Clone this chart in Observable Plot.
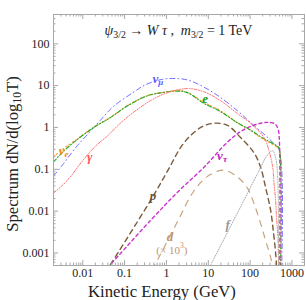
<!DOCTYPE html>
<html><head><meta charset="utf-8">
<script src="https://cdn.jsdelivr.net/npm/d3@7"></script>
<script src="https://cdn.jsdelivr.net/npm/@observablehq/plot@0.6"></script>
<style>body{margin:0;background:#fff}#chart svg{display:block}</style>
</head><body><div id="chart"></div>
<script>
// ---- data (energy in GeV, spectrum dN/dlog10T) ----
const nuMuE = [0.002,0.0035,0.0066,0.0126,0.0263,0.0537,0.158,0.316,0.79,1.66,3.55,13.2,50,102,263,363,500,500];
const nuMuS = [0.069,0.138,0.32,0.66,1.48,3.16,6.8,10.5,14.1,14.8,13.2,6.8,2.5,1.32,0.575,0.42,0.28,0.00001];
const nuEE  = [0.002,0.00355,0.0066,0.0178,0.0457,0.115,0.347,0.72,1.82,3.16,7.76,19.5,50,102,178,457,500,500];
const nuES  = [0.2,0.316,0.49,1.0,1.74,3.3,5.75,6.76,7.6,6.9,4.0,2.5,1.29,0.85,0.575,0.33,0.30,0.00001];
const elE   = [0.002,0.00355,0.0066,0.0178,0.0457,0.115,0.347,0.72,1.82,3.16,7.76,19.5,50,102,178,457,500,500];
const elS   = [0.151,0.275,0.47,0.98,1.72,3.25,5.7,6.7,7.4,6.8,3.8,2.4,1.29,0.87,0.6,0.35,0.31,0.00001];
const gamE  = [0.002,0.00316,0.005,0.01,0.02,0.039,0.079,0.162,0.417,1.05,3.16,7.9,19.5,50,102,214,282,347,372,407,427,457,479,490];
const gamS  = [0.027,0.04,0.065,0.162,0.355,0.63,1.26,2.29,4.37,6.76,8.5,7.1,4.37,2.14,1.26,0.575,0.28,0.112,0.047,0.018,0.0072,0.003,0.00068,0.00025];
const pE    = [0.0355,0.417,1.05,2.57,6.6,13.5,28.8,59,123,178,234,309,363,407,437];
const pS    = [0.00035,0.018,0.089,0.417,1.0,1.26,1.12,0.575,0.25,0.112,0.037,0.0105,0.003,0.001,0.00035];
const nuTauE = [0.0398,0.417,1.95,7.9,28.8,70.8,178,282,398,468,500,500];
const nuTauS = [0.00045,0.006,0.030,0.112,0.447,0.89,1.26,1.32,1.2,0.89,0.5,0.00001];
const dE    = [0.447,0.646,1.95,3.98,7.1,11.5,23.4,50,87,123,178,234,309,355];
const dS    = [0.0004,0.00076,0.0063,0.025,0.052,0.076,0.095,0.065,0.035,0.0155,0.0051,0.002,0.00079,0.0004];
const fE    = [10,52.5,151,263,347,407,457,479];
const fS    = [0.0004,0.01,0.079,0.224,0.275,0.19,0.063,0.0003];

const xTicks = [0.01,0.1,1,10,100,1000];
const xTickLabels = ["0.01","0.1","1","10","100","1000"];
const yTicks = [0.001,0.01,0.1,1,10,100];
const yTickLabels = ["0.001","0.01","0.1","1","10","100"];

const seriesNames = ["nuMu","nuE","e","gamma","p","nuTau","d","f"];
const seriesE = [nuMuE,nuEE,elE,gamE,pE,nuTauE,dE,fE];
const seriesS = [nuMuS,nuES,elS,gamS,pS,nuTauS,dS,fS];

// curve labels (annotation anchors in data coordinates)
const labelKeys = ["nuMu","e","nuE","gamma","p","nuTau","d","dscale","f"];
const labelE = [0.64,8.6,0.0036,0.015,0.49,21.9,1.25,1.39,30];
const labelS = [15,4.9,0.28,0.2,0.023,0.215,0.0025,0.00117,0.0047];

// ---- styles ----
const font = "'Liberation Serif','Times New Roman',serif";
const styles = {
  nuMu:  {stroke:"#6e6eff", dash:"5,3,1,3", w:1.0, label:"#5c5cff"},
  nuE:   {stroke:"#ffa040", dash:"1.5,2,1.5,3", w:1.2, label:"#ff8c1a"},
  e:     {stroke:"#22aa22", dash:"4,2,1,2", w:1.1, label:"#1a9a1a"},
  gamma: {stroke:"#ff7272", dash:"3,1.5,1,1.5,1,1.5", w:1.0, label:"#ff5555"},
  p:     {stroke:"#7b5b3b", dash:"5,4", w:1.4, label:"#6e4e30"},
  nuTau: {stroke:"#cc33cc", dash:"3,3", w:1.4, label:"#bb22bb"},
  d:     {stroke:"#c8a27c", dash:"6,6", w:1.2, label:"#c09570"},
  f:     {stroke:"#aaaaaa", dash:"1,1.5", w:1.0, label:"#999999"}
};
const labelParts = {
  nuMu: [["ν","i"],["μ","isub"]],
  e: [["e","i"]],
  nuE: [["ν","i"],["e","isub"]],
  gamma: [["γ","i"]],
  p: [["p","i"]],
  nuTau: [["ν","i"],["τ","isub"]],
  d: [["d","i"]],
  dscale: [["(× 10","n"],["3","sup"],[")","n"]],
  f: [["f","i"]]
};
const labelStyleKey = {nuMu:"nuMu",e:"e",nuE:"nuE",gamma:"gamma",p:"p",nuTau:"nuTau",d:"d",dscale:"d",f:"f"};

const W = 306, H = 300, mL = 53, mR = 2, mT = 14, mB = 35;
const fw = W - mL - mR, fh = H - mT - mB;
const xDom = [10 ** -2.7, 10 ** 3.3], yDom = [10 ** -3.3, 10 ** 2.7];
const frameColor = "#a8a8a8";

const minors = (dom) => { const r = []; for (let k = -4; k <= 4; k++) for (let m = 2; m <= 9; m++) { const v = m * 10 ** k; if (v > dom[0] && v < dom[1]) r.push(v); } return r; };
const majors = (dom) => { const r = []; for (let k = -4; k <= 4; k++) { const v = 10 ** k; if (v > dom[0] && v < dom[1]) r.push(v); } return r; };
const xMaj = majors(xDom), xMin = minors(xDom), yMaj = majors(yDom), yMin = minors(yDom);

const xFmt = new Map(xTicks.map((v, i) => [v, xTickLabels[i]]));
const yFmt = new Map(yTicks.map((v, i) => [v, yTickLabels[i]]));

const lineMarks = seriesNames.map((name, i) => {
  const st = styles[name];
  const data = seriesE[i].map((e, j) => ({E: e, S: seriesS[i][j]}));
  return Plot.line(data, {x: "E", y: "S", stroke: st.stroke, strokeWidth: st.w, strokeDasharray: st.dash, curve: "catmull-rom", clip: true});
});

const chart = Plot.plot({
  width: W, height: H,
  marginLeft: mL, marginRight: mR, marginTop: mT, marginBottom: mB,
  style: {fontFamily: font, background: "#fff", color: "#222"},
  x: {type: "log", domain: xDom},
  y: {type: "log", domain: yDom},
  marks: [
    ...lineMarks,
    Plot.frame({stroke: frameColor, strokeWidth: 1}),
    Plot.tickX(xMaj, {x: d => d, insetTop: fh - 5, stroke: frameColor}),
    Plot.tickX(xMaj, {x: d => d, insetBottom: fh - 5, stroke: frameColor}),
    Plot.tickX(xMin, {x: d => d, insetTop: fh - 2.5, stroke: frameColor}),
    Plot.tickX(xMin, {x: d => d, insetBottom: fh - 2.5, stroke: frameColor}),
    Plot.tickY(yMaj, {y: d => d, insetRight: fw - 5, stroke: frameColor}),
    Plot.tickY(yMaj, {y: d => d, insetLeft: fw - 5, stroke: frameColor}),
    Plot.tickY(yMin, {y: d => d, insetRight: fw - 2.5, stroke: frameColor}),
    Plot.tickY(yMin, {y: d => d, insetLeft: fw - 2.5, stroke: frameColor}),
    Plot.axisX(xTicks, {tickSize: 0, tickPadding: 3, tickFormat: d => xFmt.get(d), fontSize: 12, fontFamily: font, label: null}),
    Plot.axisY(yTicks, {tickSize: 0, tickPadding: 4, tickFormat: d => yFmt.get(d), fontSize: 12, fontFamily: font, label: null})
  ]
});
document.getElementById("chart").appendChild(chart);

// ---- rich text (subscripts/superscripts) positioned through the plot's scales ----
const sx = chart.scale("x"), sy = chart.scale("y");
const svg = d3.select(chart);
function richText(x, y, parts, {size = 13, color = "#222", anchor = "middle", rotate = null, weight = "normal", fit = null} = {}) {
  const t = svg.append("text").attr("x", x).attr("y", y).attr("text-anchor", anchor)
    .attr("dominant-baseline", "central")
    .attr("font-size", size).attr("fill", color).attr("font-family", font).attr("font-weight", weight);
  if (rotate != null) t.attr("transform", `rotate(${rotate},${x},${y})`);
  let shift = 0;
  const spans = [];
  for (const [s, kind] of parts) {
    const ts = t.append("tspan").text(s);
    if (kind.startsWith("i")) ts.attr("font-style", "italic");
    const isSub = kind.endsWith("sub"), isSup = kind.endsWith("sup");
    const target = isSub ? 0.3 : isSup ? -0.4 : 0;
    spans.push([ts, target - shift, isSub || isSup]);
    shift = target;
  }
  const apply = (sz) => {
    t.attr("font-size", sz);
    for (const [ts, d, small] of spans) { if (d) ts.attr("dy", d * sz); if (small) ts.attr("font-size", sz * 0.7); }
  };
  apply(size);
  if (fit) { const len = t.node().getComputedTextLength(); if (len > 0) { size = size * fit / len; apply(size); } }
  return size;
}
// title
richText((mL + W - mR) / 2, 30, [["ψ","i"],["3/2","sub"],[" → ","n"],["W","i"],[" ","n"],["τ","i"],[" ,  ","n"],["m","i"],["3/2","sub"],[" = 1 TeV","n"]], {size: 14, fit: 148});
// x label
const labSize = richText(162, 291, [["Kinetic Energy (GeV)","n"]], {size: 15, fit: 148});
// y label
richText(12, 154, [["Spectrum dN/d(log","n"],["10","sub"],["T)","n"]], {size: labSize, rotate: -90});
// curve labels
labelKeys.forEach((k, i) => {
  const st = styles[labelStyleKey[k]];
  richText(sx.apply(labelE[i]), sy.apply(labelS[i]), labelParts[k], {size: k === "dscale" ? 11 : 13, color: st.label, weight: k === "dscale" ? "normal" : "bold"});
});
</script>
</body></html>
